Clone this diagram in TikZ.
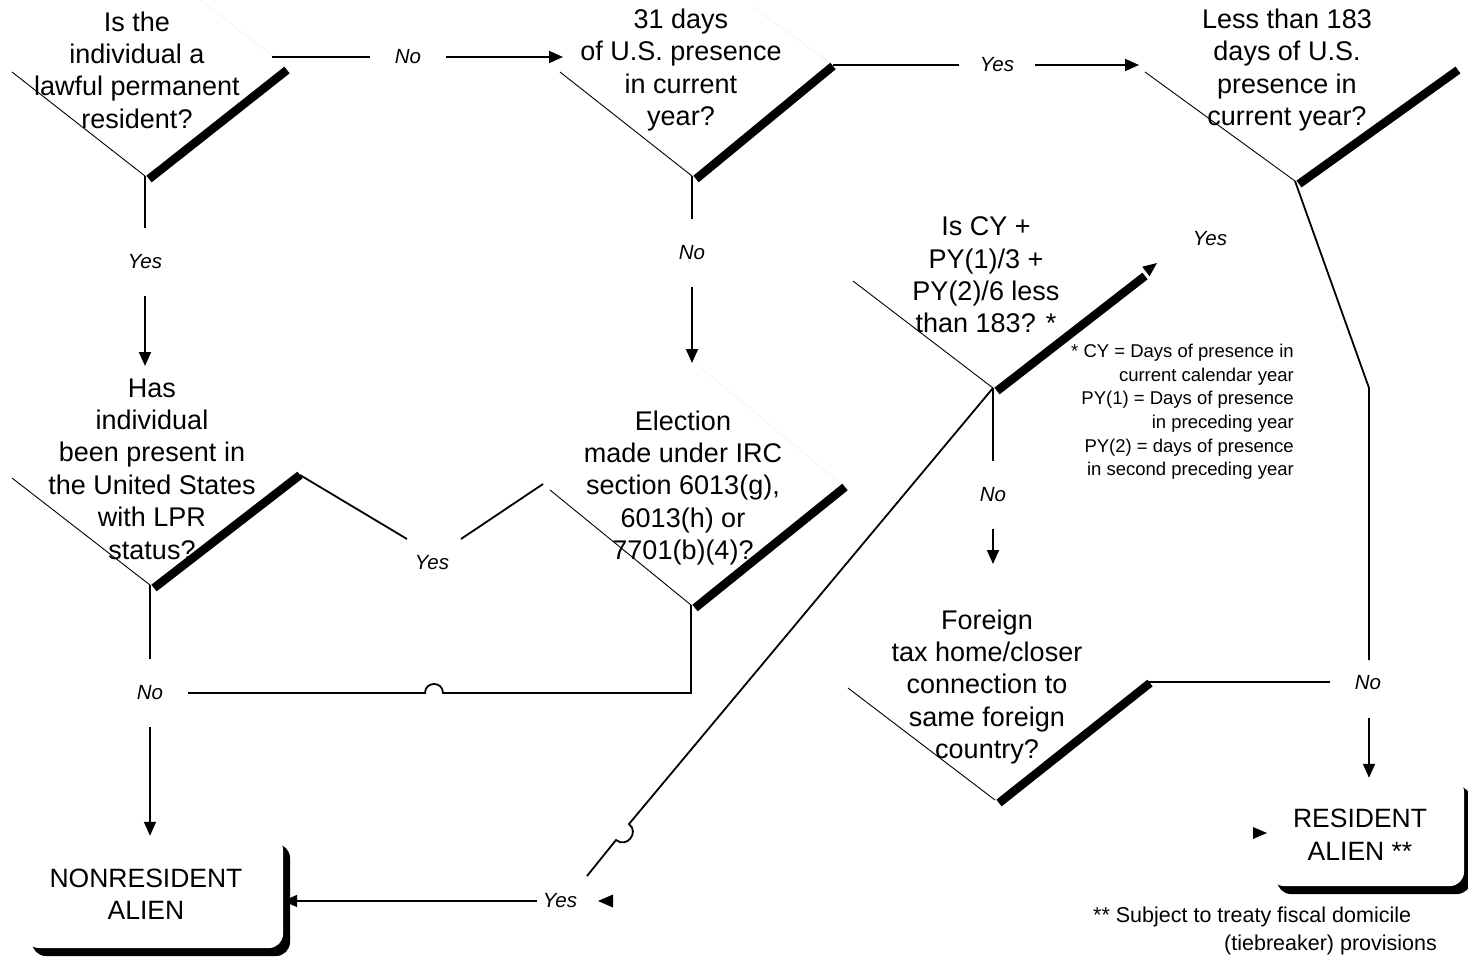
\documentclass[tikz,border=0pt]{standalone}
\usepackage{fontspec}
\setmainfont{Liberation Sans}
\usetikzlibrary{arrows.meta,shadows,calc}
\begin{document}
\begin{tikzpicture}[x=1pt,y=-1pt,
  vthin/.style={line width=0.9pt},
  faint/.style={line width=0.5pt,black!7},
  vbar/.style={line width=8.5pt},
  conn/.style={line width=1.8pt},
  arr/.style={conn,-{Triangle[length=14pt,width=12pt]}},
  tip/.style={fill=black},
  q/.style={align=center,font=\fontsize{27}{32.4}\selectfont,inner sep=0pt},
  lbl/.style={font=\fontsize{20.5}{24}\selectfont\itshape,inner sep=0pt,minimum width=76pt,minimum height=68pt},
  note/.style={font=\fontsize{18.5}{23.6}\selectfont,align=right,inner sep=0pt},
  note2/.style={font=\fontsize{21.5}{26}\selectfont,inner sep=0pt},
  term/.style={fill=white,rounded corners=14pt,inner sep=0pt,
    drop shadow={shadow xshift=7pt,shadow yshift=-8pt,fill=black,opacity=1}},
  termtext/.style={align=center,font=\fontsize{26.5}{32.5}\selectfont,inner sep=0pt},
]
\useasboundingbox (0,0) rectangle (1468,958);

% ---------- decision vertices ----------
\coordinate (aL) at (12,72);   \coordinate (aV) at (145,176);  \coordinate (aR) at (287,70);
\coordinate (bL) at (560,72);  \coordinate (bV) at (692,176);  \coordinate (bR) at (833,66);
\coordinate (cL) at (1145,72); \coordinate (cV) at (1295,181); \coordinate (cR) at (1458,70);
\coordinate (dL) at (853,281); \coordinate (dV) at (993,388);  \coordinate (dR) at (1145,276);
\coordinate (eL) at (12,478);  \coordinate (eV) at (150,585);  \coordinate (eR) at (300,475);
\coordinate (fL) at (550,490); \coordinate (fV) at (691,605);  \coordinate (fR) at (845,487);
\coordinate (gL) at (848,688); \coordinate (gV) at (995,800);  \coordinate (gR) at (1150,683);

% faint diamond remnants
\draw[faint] (200,0) -- (273,56);
\draw[faint] (753,7) -- (830,63);
\draw[faint] (700,367) -- (840,483);

% V shapes
\foreach \n in {a,b,c,d,e,f,g}{
  \draw[vthin] (\n L) -- (\n V);
  \draw[vbar] ($(\n V)+(4,3)$) -- (\n R);
}

% ---------- question texts ----------
\node[q] (tA) at (137,70) {Is the\\individual a\\lawful permanent\\resident?};
\node[q] (tB) at (681,70) {31 days\\of U.S. presence\\in current\\year?};
\node[q] (tC) at (1287,70) {Less than 183\\days of U.S.\\presence in\\current year?};
\node[q] (tD) at (986,275) {Is CY +\\PY(1)/3 +\\PY(2)/6 less\\than 183? *};
\node[q] (tE) at (152,469) {Has\\individual\\been present in\\the United States\\with LPR\\status?};
\node[q] (tF) at (683,488) {Election\\made under IRC\\section 6013(g),\\6013(h) or\\7701(b)(4)?};
\node[q] (tG) at (987,687) {Foreign\\tax home/closer\\connection to\\same foreign\\country?};

\node[note,anchor=east] (fnD) at (1294,412) {* CY = Days of presence in\\current calendar year\\PY(1) = Days of presence\\in preceding year\\PY(2) = days of presence\\in second preceding year};
\node[note2,anchor=west] (fn1) at (1093,917) {** Subject to treaty fiscal domicile};
\node[note2,anchor=west] (fn2) at (1224,945) {(tiebreaker) provisions};

% ---------- terminal boxes ----------
\node[term,minimum width=258pt,minimum height=112pt] (na) at (154,892) {};
\node[termtext] (naT) at (146,894) {NONRESIDENT\\ALIEN};
\node[term,minimum width=194pt,minimum height=108pt] (ra) at (1367,832) {};
\node[termtext] (raT) at (1360,834.5) {RESIDENT\\ALIEN **};

% ---------- labels ----------
\node[lbl] (yA)  at (145,262) {Yes};
\node[lbl] (nAB) at (408,57)  {No};
\node[lbl] (yBC) at (997,65)  {Yes};
\node[lbl] (nB)  at (692,253) {No};
\node[lbl] (yD)  at (1210,239) {Yes};
\node[lbl] (nD)  at (993,495) {No};
\node[lbl] (nE)  at (150,693) {No};
\node[lbl] (yEF) at (432,563) {Yes};
\node[lbl] (nR)  at (1368,683) {No};
\node[lbl] (yNR) at (560,901) {Yes};

% ---------- connectors ----------
% A -> E (Yes)
\draw[conn] (aV) -- (yA.north);
\draw[arr] (yA.south) -- (145,366);
% A -> B (No)
\coordinate (aOut) at (272,57);
\coordinate (bIn) at (563,57);
\draw[conn] (aOut) -- (nAB.west);
\draw[arr] (nAB.east) -- (bIn);
% B -> C (Yes)
\coordinate (bOut) at (833,65);
\coordinate (cIn) at (1139,65);
\draw[conn] (bOut) -- (yBC.west);
\draw[arr] (yBC.east) -- (cIn);
% B -> F (No)
\draw[conn] (bV) -- (nB.north);
\draw[arr] (nB.south) -- (692,363);
% C -> Resident (No)
\coordinate (cBend) at (1369,388);
\coordinate (nRtop) at (1369,660);
\coordinate (nRbot) at (1369,718);
\draw[conn] (cV) -- (cBend) -- (nRtop);
\draw[arr] (nRbot) -- (ra.north -| nRbot);
% G -> Resident (No)
\coordinate (gOut) at (1148,682);
\draw[conn] (gOut) -- (nR.west |- gOut);
% D -> G (No)
\draw[conn] (dV) -- (nD.north);
\draw[arr] (nD.south) -- (993,564);
% D -> Nonresident (Yes) with line jump
\coordinate (h1) at (629,824);
\coordinate (h2) at (616,840);
\coordinate (dEnd) at (587,876);
\draw[conn] (dV) -- (h1) .. controls ($(h1)+(10.6,8.6)$) and ($(h2)+(10.6,8.6)$) .. (h2) -- (dEnd);
\coordinate (yNRout) at (537,901);
\draw[arr] (yNRout) -- (na.east |- yNRout);
% E -> F (Yes)
\draw[conn] (eR) -- (407,539);
\draw[conn] (461,539) -- (543,484);
% E -> Nonresident (No)
\draw[conn] (eV) -- (nE.north);
\draw[arr] (nE.south) -- (na.north -| nE.south);
% F -> No line (with jump)
\coordinate (j1) at (425,693);
\coordinate (j2) at (443,693);
\coordinate (fDown) at (691,693);
\draw[conn] (nE.east) -- (j1) .. controls (425,681) and (443,681) .. (j2) -- (fDown) -- (fV);

% stray arrow tips
\fill[tip] (1157,263) -- (1142.2,266.7) -- (1149.5,276.3) -- cycle;
\fill[tip] (598,901) -- (613,894.5) -- (613,907.5) -- cycle;
\fill[tip] (1267,833) -- (1253,827) -- (1253,839) -- cycle;
\end{tikzpicture}
\end{document}
